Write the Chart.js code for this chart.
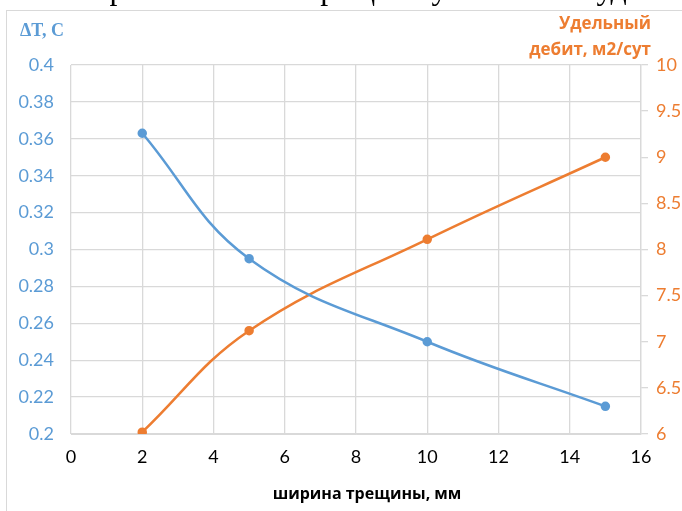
<!DOCTYPE html>
<html>
<head>
<meta charset="utf-8">
<script src="https://cdn.jsdelivr.net/npm/chart.js@4"></script>
<style>
  html, body { margin: 0; padding: 0; background: #fff; overflow: hidden; }
  #wrap { position: relative; width: 682px; height: 511px; }
  #frame { position: absolute; left: 6px; top: 10px; width: 700px; height: 520px; border: 1px solid #d9d9d9; }
  canvas { position: absolute; left: 0; top: 0; }
</style>
</head>
<body>
<div id="wrap">
  <div id="frame"></div>
  <canvas id="chart" width="682" height="511"></canvas>
</div>
<script>
// crack width, mm
const crackWidth = [2, 5, 10, 15];
// temperature difference, C
const deltaT = [0.363, 0.295, 0.25, 0.215];
// specific yield, m2/day
const specificYield = [6.02, 7.12, 8.11, 9.0];

const blue = '#5b9bd5';
const orange = '#ed7d31';
const tickFont = { family: 'Lato', size: 18 };
// drop trailing zeros: 0.40 -> 0.4, 10.0 -> 10
const trim = v => String(+v.toFixed(2));

// headings drawn flat above the axes, plus the cut-off line of text above the frame
const headings = {
  id: 'headings',
  afterDraw(chart) {
    const ctx = chart.ctx;
    ctx.save();
    ctx.fillStyle = '#000';
    ctx.font = '32px "Liberation Serif"';
    ctx.textBaseline = 'alphabetic';
    ctx.textAlign = 'left';
    ctx.fillText('по горизонтальной трещине увеличение удельного дебита', 40, -1);

    ctx.font = 'bold 18px "Liberation Serif"';
    ctx.fillStyle = blue;
    ctx.textBaseline = 'middle';
    ctx.fillText('\u0394T, C', 20, 31);

    ctx.font = 'bold 17px "Open Sans"';
    ctx.fillStyle = orange;
    ctx.textAlign = 'right';
    ctx.fillText('Удельный', 651, 24);
    ctx.fillText('дебит, м2/сут', 651, 50);

    ctx.fillStyle = '#000';
    ctx.textAlign = 'center';
    ctx.font = 'bold 16px "Open Sans"';
    ctx.fillText('ширина трещины, мм', 367, 494);
    ctx.restore();
  }
};

new Chart(document.getElementById('chart'), {
  type: 'scatter',
  data: {
    datasets: [{
      label: 'ΔT',
      data: crackWidth.map((x, i) => ({ x: x, y: deltaT[i] })),
      yAxisID: 'y',
      showLine: true,
      tension: 0.4,
      borderColor: blue,
      backgroundColor: blue,
      borderWidth: 2.5,
      pointRadius: 3.5,
      pointHoverRadius: 3.5
    }, {
      label: 'Удельный дебит',
      data: crackWidth.map((x, i) => ({ x: x, y: specificYield[i] })),
      yAxisID: 'y2',
      showLine: true,
      tension: 0.4,
      borderColor: orange,
      backgroundColor: orange,
      borderWidth: 2.5,
      pointRadius: 3.5,
      pointHoverRadius: 3.5
    }]
  },
  options: {
    responsive: false,
    animation: false,
    layout: { padding: { top: 65, left: 0, right: 0, bottom: 0 } },
    plugins: { legend: { display: false }, tooltip: { enabled: false } },
    scales: {
      x: {
        type: 'linear', min: 0, max: 16,
        ticks: { stepSize: 2, color: '#000', font: tickFont, padding: 12, callback: trim },
        grid: { color: '#d9d9d9', lineWidth: 1.3, drawTicks: false },
        border: { color: '#d9d9d9' },
        afterFit(s) { s.height = 77; }
      },
      y: {
        position: 'left', min: 0.2, max: 0.4,
        ticks: { stepSize: 0.02, color: blue, font: tickFont, padding: 17, callback: trim },
        grid: { color: '#d9d9d9', lineWidth: 1.3, drawTicks: false },
        border: { display: false },
        afterFit(s) { s.width = 71; }
      },
      y2: {
        position: 'right', min: 6, max: 10,
        ticks: { stepSize: 0.5, color: orange, font: tickFont, padding: 8, callback: trim },
        grid: { drawOnChartArea: false, color: '#d9d9d9', lineWidth: 1.3, tickLength: 7 },
        border: { color: '#d9d9d9', width: 1.3 },
        afterFit(s) { s.width = 41; }
      }
    }
  },
  plugins: [headings]
});
</script>
</body>
</html>
